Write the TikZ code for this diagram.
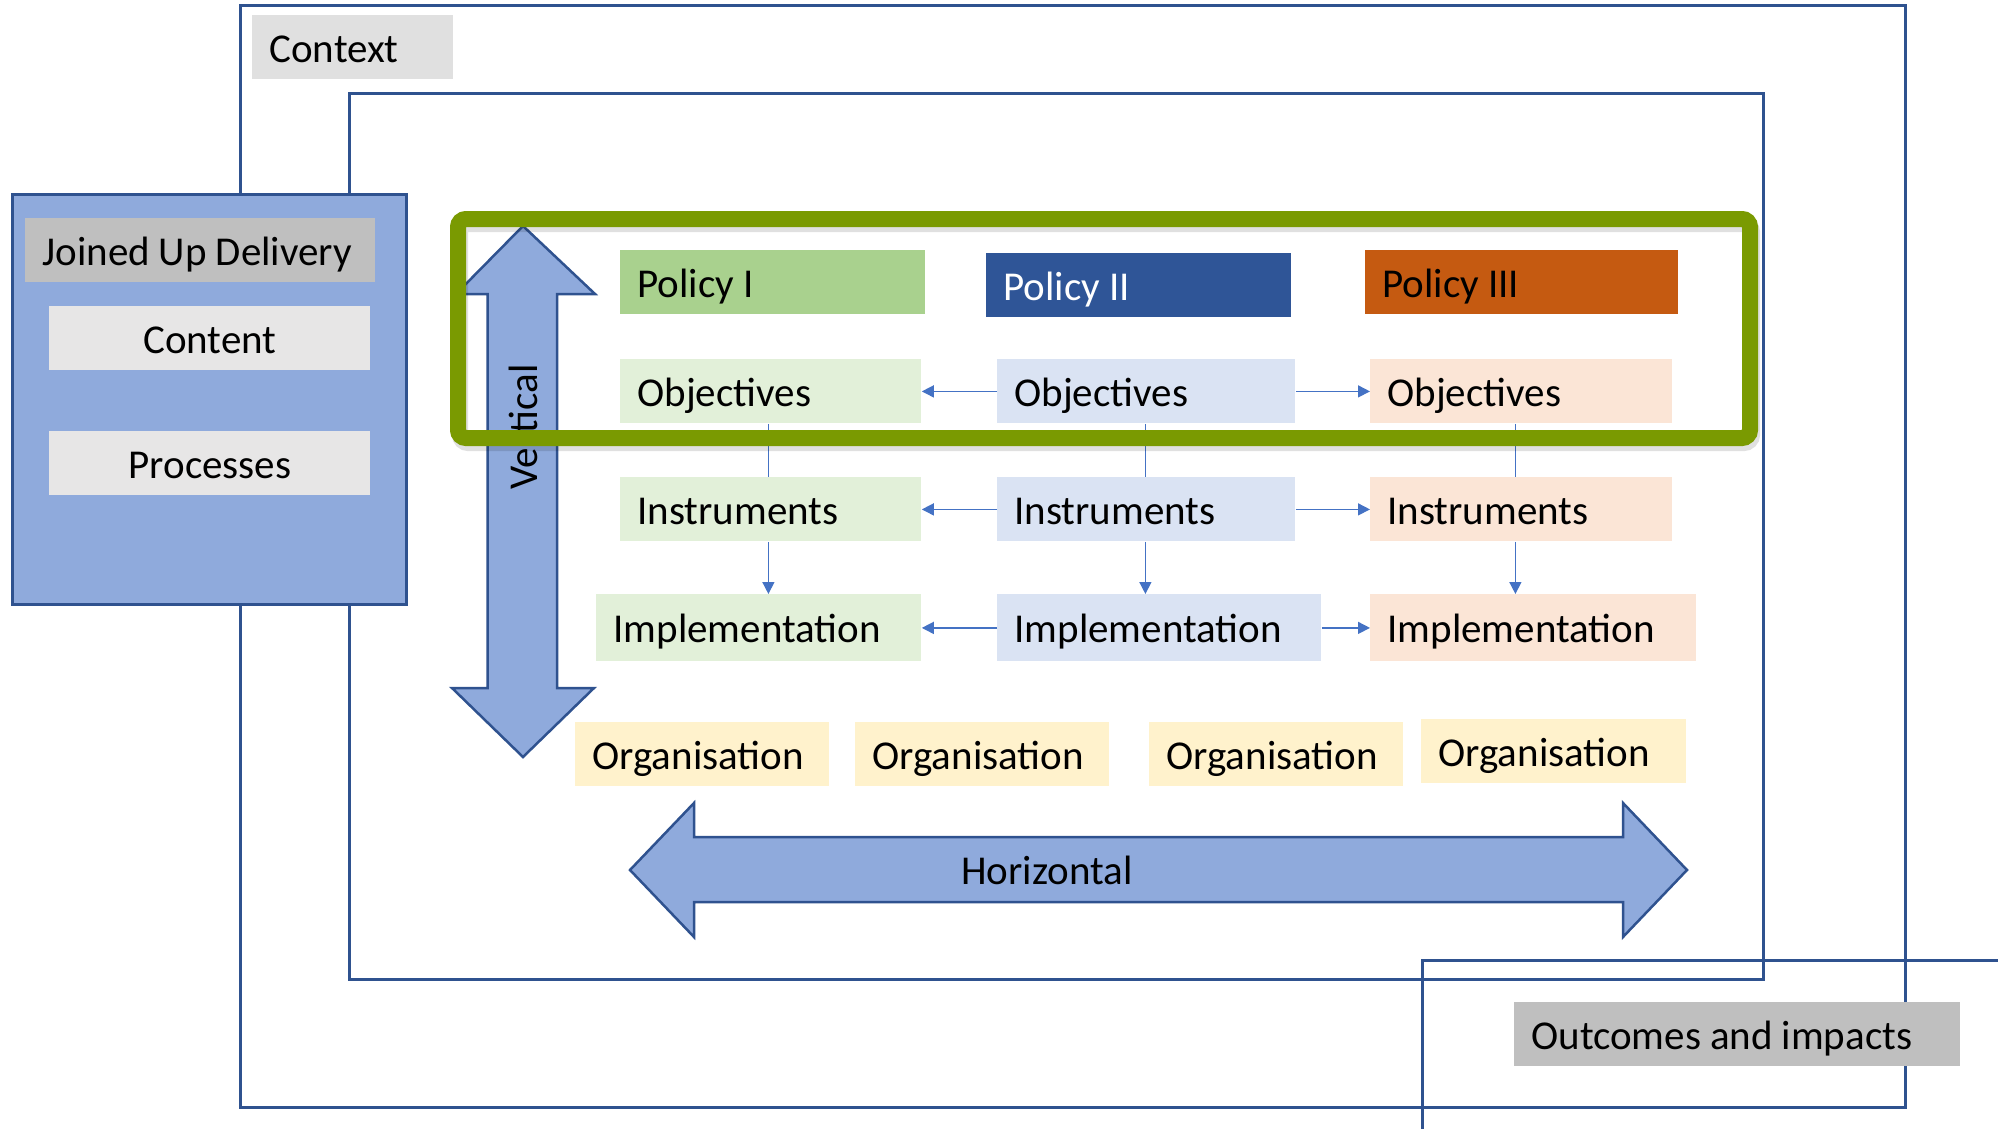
\documentclass[tikz,border=0pt]{standalone}
\usepackage{fontspec}
\setmainfont{Carlito}
\usetikzlibrary{arrows.meta}

\definecolor{frameblue}{HTML}{2F528F}
\definecolor{arrowfill}{HTML}{8FAADC}
\definecolor{linkblue}{HTML}{4472C4}
\definecolor{olivegreen}{HTML}{7A9A01}
\definecolor{labelgray}{HTML}{BFBFBF}
\definecolor{lightgray}{HTML}{E7E6E6}
\definecolor{contextgray}{HTML}{E0E0E0}
\definecolor{polgreen}{HTML}{A9D18E}
\definecolor{polblue}{HTML}{2F5597}
\definecolor{polorange}{HTML}{C55A11}
\definecolor{palegreen}{HTML}{E2F0D9}
\definecolor{paleblue}{HTML}{DAE3F3}
\definecolor{paleorange}{HTML}{FBE5D6}
\definecolor{paleyellow}{HTML}{FFF2CC}

\newcommand{\lblfont}{\fontsize{20.5}{24}\selectfont\spaceskip=0.22em\relax}

\begin{document}
\begin{tikzpicture}[x=0.5pt, y=-0.5pt, font=\lblfont,
	cell/.style={rectangle, anchor=north west, inner xsep=8.5pt, inner ysep=0pt, minimum height=32pt, text height=15pt, text depth=0pt, text width=#1*0.5pt-17pt, execute at begin node={\spaceskip=0.22em\relax}},
	link/.style={draw=linkblue, line width=0.75pt, -{Triangle[length=6pt,width=6pt]}},
	boxline/.style={draw=frameblue, line width=1.5pt},
	bigarrow/.style={fill=arrowfill, draw=frameblue, line width=1.25pt, line join=miter}]
	
	\clip (0,0) rectangle (1998,1129);
	
	% Frames
	\draw[boxline] (240,5.5) rectangle (1905,1107);
	\draw[boxline] (349,94) rectangle (1763,979);
	\draw[boxline] (2010,960) -- (1422,960) -- (1422,1140);
	
	\node[cell=201, fill=contextgray] (context) at (252,15) {Context};
	
	% Joined up delivery
	\draw[boxline, fill=arrowfill] (12.5,194.5) rectangle (406,604);
	\node[cell=350, fill=labelgray] (jud) at (25,218) {Joined Up Delivery};
	\node[cell=321, fill=lightgray, align=center] (content) at (49,306) {Content};
	\node[cell=321, fill=lightgray, align=center] (processes) at (49,431) {Processes};
	
	% Big arrows
	\draw[bigarrow] (523,226) -- (595,294) -- (557,294) -- (557,688) -- (594,688) -- (523,757) -- (452,688) -- (487.5,688) -- (487.5,294) -- (456,294) -- cycle;
	\node[rotate=90] (vlabel) at (523,427) {Vertical};
	
	\draw[bigarrow] (630,870) -- (694,803) -- (694,837) -- (1623,837) -- (1623,803) -- (1687,870) -- (1623,937) -- (1623,902) -- (694,902) -- (694,937) -- cycle;
	\node (hlabel) at (1047,870) {Horizontal};
	
	% Policies
	\node[cell=305, fill=polgreen] (pol1) at (620,250) {Policy I};
	\node[cell=305, fill=polblue, text=white] (pol2) at (986,253) {Policy II};
	\node[cell=313, fill=polorange] (pol3) at (1365,250) {Policy III};
	
	\foreach \i/\x/\w/\c in {1/620/301/palegreen, 2/997/298/paleblue, 3/1370/302/paleorange} {
		\node[cell=\w, fill=\c] (obj\i) at (\x,359) {Objectives};
		\node[cell=\w, fill=\c] (ins\i) at (\x,477) {Instruments};
	}
	
	\foreach \i/\x/\w/\c in {1/596/325/palegreen, 2/997/324/paleblue, 3/1370/326/paleorange} {
		\node[cell=\w, fill=\c, minimum height=33.5pt] (imp\i) at (\x,594) {Implementation};
	}
	
	\foreach \i/\x/\y/\w in {1/575/722/254, 2/855/722/254, 3/1149/722/254, 4/1421/719/265} {
		\node[cell=\w, fill=paleyellow] (org\i) at (\x,\y) {Organisation};
	}
	
	% Links
	\foreach \i in {1,3} {
		\draw[link] (obj2) -- (obj\i);
		\draw[link] (ins2) -- (ins\i);
		\draw[link] (imp2) -- (imp\i);
	}
	\foreach \i/\dx in {1/-1.25pt, 2/-0.5pt, 3/-3pt} {
		\draw[draw=linkblue, line width=0.75pt] ([xshift=\dx]obj\i.south) -- ([xshift=\dx]ins\i.north);
		\draw[link] ([xshift=\dx]ins\i.south) -- ([xshift=\dx]ins\i.south |- imp\i.north);
	}
	
	% Scope frame
	\draw[black, opacity=0.12, line width=8pt, rounded corners=4pt] (460,224) rectangle (1752,443);
	\draw[olivegreen, line width=8pt, rounded corners=4pt] (458,219) rectangle (1750,438);
	
	\node[cell=446, fill=labelgray] (outcomes) at (1514,1002) {Outcomes and impacts};
\end{tikzpicture}
\end{document}
